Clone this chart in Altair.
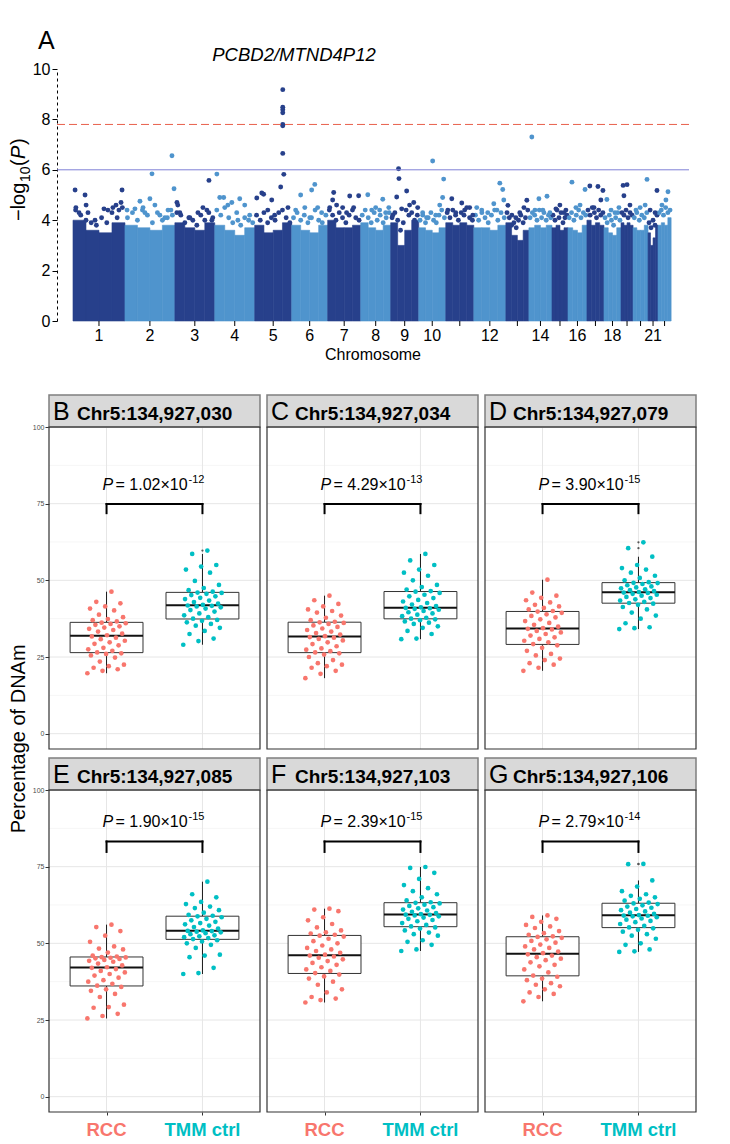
import altair as alt
import numpy as np
import pandas as pd

FONT = "Liberation Sans"
DARK = "#27408B"
LIGHT = "#4F94CD"
RCC_COL = "#F8766D"
TMM_COL = "#00BFC4"

# ---------------- Panel A: Manhattan plot ----------------
CHROM_SPAN_MB = [250, 240, 192, 192, 178, 173, 159, 144, 135, 130, 135,
                 154, 111, 111, 77, 91, 82, 82, 58, 72, 48, 63]
CHROM_LABELS = ["1", "2", "3", "4", "5", "6", "7", "8", "9", "10", "",
                "12", "", "14", "", "16", "", "18", "", "", "21", ""]
# height of the dense bulk of SNPs in four segments of each chromosome
BODY_TOP = [
    [4.0, 3.6, 3.5, 3.9], [3.8, 3.7, 3.6, 3.8], [3.9, 3.7, 3.6, 3.9],
    [3.8, 3.6, 3.4, 3.7], [3.8, 3.5, 3.6, 3.9], [3.8, 3.6, 3.5, 3.8],
    [4.0, 3.7, 3.7, 3.8], [3.9, 3.7, 3.6, 3.8], [3.9, 3.0, 3.6, 4.0],
    [3.7, 3.6, 3.5, 3.7], [3.9, 3.8, 3.9, 3.8], [3.7, 3.7, 3.6, 3.8],
    [3.9, 3.4, 3.2, 3.6], [3.7, 3.8, 3.7, 3.8], [3.7, 3.8, 3.6, 3.7],
    [3.7, 3.6, 3.5, 3.8], [4.0, 3.8, 3.9, 3.8], [3.7, 3.5, 3.4, 3.7],
    [3.9, 3.8, 3.9, 3.8], [3.7, 3.6, 3.6, 3.8], [3.5, 3.0, 3.3, 3.8],
    [3.8, 3.9, 3.8, 4.1],
]
# ragged upper edge of the bulk, sampled evenly along each chromosome
EDGE_TOP = [
    [4.4, 4.2, 4.0, 3.9, 3.8, 4.1, 3.9, 4.3, 4.1, 4.5],
    [4.1, 4.3, 4.0, 4.4, 4.2, 3.9, 4.3, 4.0, 4.1, 4.2],
    [4.3, 4.2, 3.9, 4.1, 4.0, 3.8, 4.2, 4.0, 4.3, 4.1],
    [4.4, 4.2, 4.5, 4.1, 3.9, 4.3, 3.8, 4.1, 4.0, 3.9],
    [4.2, 4.0, 4.3, 3.9, 4.1, 4.0, 4.3, 4.4, 4.1, 3.9],
    [4.1, 4.3, 4.0, 4.2, 3.9, 4.1, 4.4, 4.0, 3.9, 4.2],
    [4.4, 4.2, 4.0, 4.3, 4.1, 3.9, 4.2, 4.4, 4.1, 4.0],
    [4.2, 4.4, 4.1, 3.9, 4.3, 4.0, 4.2, 3.9, 4.1, 4.3],
    [4.1, 4.3, 4.0, 3.6, 3.9, 4.4, 4.2, 4.3, 4.0, 4.2],
    [4.0, 4.2, 3.9, 4.1, 4.3, 4.0, 3.9, 4.2, 4.4, 4.1],
    [4.3, 4.1, 4.4, 4.2, 4.0, 4.3, 4.2, 4.5, 4.1, 4.0],
    [4.2, 4.0, 4.3, 4.1, 3.9, 4.2, 4.4, 4.0, 4.3, 4.1],
    [4.3, 4.1, 3.8, 3.9, 3.7, 4.0, 4.2, 3.9, 4.1, 4.4],
    [4.1, 4.3, 4.2, 4.0, 4.4, 4.1, 4.3, 4.0, 4.2, 4.1],
    [4.2, 4.0, 4.4, 4.1, 4.3, 3.9, 4.1, 4.2],
    [4.1, 4.3, 4.0, 4.2, 4.4, 4.1, 4.3, 4.2],
    [4.4, 4.2, 4.5, 4.3, 4.1, 4.4, 4.2, 4.3],
    [4.1, 3.9, 4.2, 4.0, 3.8, 4.1, 4.3, 4.0],
    [4.3, 4.2, 4.4, 4.1, 4.3, 4.2],
    [4.1, 4.3, 4.0, 4.2, 4.1, 4.3],
    [3.9, 3.7, 4.0, 3.8, 4.2],
    [4.3, 4.4, 4.2, 4.5, 4.3, 4.4],
]
# SNPs standing out above the bulk: chromosome -> [(position Mb, -log10 P)]
TOP_SNPS = {
    1: [(10, 5.2), (14, 4.5), (29, 4.3), (58, 5.0), (63, 4.6), (72, 4.3), (106, 4.0),
        (149, 4.45), (168, 4.4), (192, 4.5), (207, 4.6), (221, 4.4), (231, 4.7), (236, 5.2)],
    2: [(10, 4.4), (48, 4.45), (72, 4.75), (87, 4.5), (96, 4.3), (120, 4.85), (130, 5.84),
        (144, 4.6), (168, 4.2), (192, 4.1), (207, 4.4), (221, 4.4), (226, 6.56), (236, 5.25)],
    3: [(10, 4.7), (14, 4.6), (24, 4.3), (72, 4.1), (111, 4.3), (135, 4.5), (154, 4.4),
        (164, 5.58), (178, 4.0)],
    4: [(10, 5.83), (24, 4.9), (43, 4.9), (63, 4.6), (82, 4.7), (111, 4.0), (120, 4.85),
        (144, 4.6), (168, 4.2)],
    5: [(10, 4.88), (34, 5.08), (43, 5.03), (63, 4.4), (82, 4.8), (96, 4.2), (125, 5.32),
        (135, 9.18), (135, 8.48), (135, 8.38), (135, 8.26), (135, 7.8), (135, 7.75),
        (135, 6.65), (140, 5.82), (160, 4.5)],
    6: [(19, 4.4), (43, 5.0), (63, 4.5), (87, 4.1), (96, 5.2), (111, 5.42), (125, 4.5), (144, 4.3)],
    7: [(10, 4.5), (24, 4.8), (29, 5.1), (43, 4.6), (72, 4.5), (91, 4.3), (106, 4.96),
        (125, 4.5), (149, 4.97)],
    8: [(34, 5.01), (53, 4.4), (72, 4.5), (91, 4.4), (106, 4.83), (120, 4.3), (135, 4.5)],
    9: [(10, 4.2), (29, 4.92), (38, 6.04), (40, 5.65), (53, 4.45), (77, 5.16), (91, 4.6),
        (111, 4.7), (130, 4.5)],
    10: [(19, 4.3), (38, 4.1), (67, 6.35), (82, 4.2), (101, 4.6), (115, 4.9), (120, 5.63)],
    11: [(10, 4.4), (29, 4.85), (48, 4.3), (77, 4.68), (91, 4.4), (115, 4.5), (130, 4.2)],
    12: [(14, 4.5), (38, 4.4), (67, 4.3), (96, 4.65), (111, 4.4), (125, 5.47), (139, 5.22), (144, 4.8)],
    13: [(10, 4.59), (29, 4.2), (48, 4.1), (67, 4.3), (87, 4.5), (101, 4.79)],
    14: [(14, 7.3), (29, 4.4), (48, 4.85), (67, 4.4), (87, 4.95), (101, 4.3)],
    15: [(19, 4.45), (38, 4.6), (58, 4.3), (67, 4.4)],
    16: [(19, 5.51), (38, 4.5), (58, 4.6), (82, 5.22)],
    17: [(14, 5.36), (34, 4.5), (53, 5.34), (67, 4.8), (77, 5.18)],
    18: [(14, 4.82), (34, 4.4), (53, 4.3), (72, 4.5)],
    19: [(10, 5.38), (14, 4.97), (29, 5.41), (43, 4.6)],
    20: [(14, 4.4), (34, 4.5), (58, 4.6), (67, 5.62)],
    21: [(10, 4.4), (34, 4.3), (43, 5.18)],
    22: [(19, 4.6), (38, 4.8), (48, 5.13)],
}
SIG_LINE = 7.8
SUG_LINE = 6.0
GENE_LABEL = "PCBD2/MTND4P12"

# ---------------- Panels B-G: DNAm box plots ----------------
PANEL_LETTERS = ["B", "C", "D", "E", "F", "G"]
PANEL_SITES = ["Chr5:134,927,030", "Chr5:134,927,034", "Chr5:134,927,079",
               "Chr5:134,927,085", "Chr5:134,927,103", "Chr5:134,927,106"]
P_MANTISSA = ["1.02", "4.29", "3.90", "1.90", "2.39", "2.79"]
P_EXPONENT = ["-12", "-13", "-15", "-15", "-15", "-14"]
GROUPS = ["RCC", "TMM ctrl"]

B_RCC = [19.7, 20.5, 21.0, 21.5, 22.0, 22.5, 23.5, 24.8, 25.5, 26.0, 26.2, 26.5, 27.0, 27.5, 28.0,
         28.8, 29.3, 29.8, 30.3, 30.8, 31.3, 31.7, 32.1, 32.6, 33.3, 33.8, 34.2, 34.6, 35.0, 35.5,
         35.8, 36.0, 36.2, 36.6, 37.0, 37.4, 38.0, 38.8, 40.2, 40.8, 41.5, 42.5, 43.0, 46.3]
B_TMM = [29.0, 30.2, 31.0, 32.5, 33.5, 34.5, 35.2, 35.8, 36.3, 36.8, 37.1, 37.5, 38.0, 38.6, 39.2,
         39.8, 40.3, 40.8, 41.2, 41.5, 41.7, 41.8, 42.0, 42.4, 42.9, 43.4, 43.9, 44.3, 44.8, 45.2,
         45.6, 45.9, 46.0, 46.3, 46.8, 47.5, 48.5, 49.8, 52.5, 53.5, 54.5, 55.0, 58.6, 59.7]
C_RCC = [18.1, 19.5, 20.5, 21.5, 22.0, 22.5, 23.0, 24.0, 25.0, 25.8, 26.2, 26.5, 26.9, 27.4, 27.8,
         28.5, 29.2, 29.8, 30.4, 30.9, 31.3, 31.5, 31.8, 32.3, 32.8, 33.3, 33.8, 34.3, 34.8, 35.3,
         35.8, 36.1, 36.3, 36.5, 37.0, 37.8, 38.5, 39.5, 40.0, 40.5, 41.5, 42.3, 43.5, 45.0]
C_TMM = [30.8, 31.0, 32.5, 33.5, 34.5, 35.0, 35.8, 36.2, 36.6, 37.0, 37.3, 37.5, 37.8, 38.3, 38.8,
         39.2, 39.6, 40.0, 40.4, 40.7, 40.9, 41.0, 41.2, 41.6, 42.1, 42.6, 43.1, 43.6, 44.2, 44.8,
         45.3, 45.9, 46.3, 46.5, 47.0, 47.8, 48.5, 50.0, 51.5, 52.5, 53.5, 55.0, 56.5, 58.6]
D_RCC = [20.5, 21.5, 22.5, 23.0, 24.0, 24.5, 25.5, 26.0, 27.0, 28.0, 28.8, 29.2, 29.8, 30.3, 30.9,
         31.4, 32.0, 32.5, 33.0, 33.5, 34.0, 34.2, 34.4, 34.9, 35.5, 36.1, 36.7, 37.3, 37.9, 38.4,
         38.9, 39.4, 39.8, 40.0, 40.5, 41.0, 41.5, 42.0, 42.8, 43.5, 44.3, 45.0, 46.0, 50.2]
D_TMM = [34.1, 34.4, 34.7, 36.0, 37.5, 38.5, 39.5, 40.5, 41.3, 42.0, 42.4, 42.6, 43.0, 43.4, 43.8,
         44.2, 44.6, 45.0, 45.3, 45.6, 45.9, 46.0, 46.2, 46.5, 46.8, 47.1, 47.4, 47.7, 48.0, 48.4,
         48.8, 49.1, 49.2, 49.4, 50.0, 50.8, 51.5, 52.5, 53.5, 54.0, 55.0, 57.7, 60.5, 62.4]
E_RCC = [25.5, 26.3, 27.0, 29.0, 29.2, 30.0, 32.5, 33.5, 34.5, 35.0, 35.8, 36.2, 36.8, 37.5, 38.0,
         38.8, 39.5, 40.0, 40.5, 41.0, 41.6, 42.0, 42.2, 42.8, 43.4, 44.0, 44.3, 44.6, 44.9, 45.1,
         45.3, 45.4, 45.5, 45.7, 46.0, 47.0, 48.0, 48.3, 49.0, 50.5, 52.5, 54.0, 55.3, 56.1]
E_TMM = [40.0, 40.3, 42.0, 45.5, 46.0, 46.3, 48.5, 49.5, 50.0, 50.6, 51.0, 51.4, 51.7, 52.0, 52.3,
         52.6, 53.0, 53.3, 53.6, 53.8, 54.0, 54.05, 54.2, 54.8, 55.3, 55.8, 56.2, 56.6, 57.0, 57.5,
         58.0, 58.5, 58.8, 59.0, 59.3, 60.0, 60.8, 61.5, 62.0, 62.8, 63.5, 65.0, 66.0, 70.1]
F_RCC = [30.7, 31.5, 32.0, 32.5, 34.0, 35.0, 36.5, 37.5, 38.5, 39.2, 39.8, 40.3, 41.0, 41.5, 42.2,
         43.0, 43.6, 44.2, 44.8, 45.3, 45.7, 46.0, 46.3, 46.9, 47.5, 48.0, 48.5, 49.3, 50.0, 50.7,
         51.5, 52.2, 52.5, 52.8, 53.2, 53.6, 54.2, 55.2, 56.3, 57.5, 58.5, 60.5, 61.0, 61.3]
F_TMM = [47.5, 48.0, 49.5, 50.5, 51.0, 52.5, 53.0, 53.5, 54.2, 54.8, 55.2, 55.5, 56.0, 56.6, 57.2,
         57.6, 58.0, 58.4, 58.8, 59.1, 59.3, 59.35, 59.5, 59.9, 60.3, 60.7, 61.0, 61.4, 61.8, 62.2,
         62.6, 63.0, 63.2, 63.4, 64.0, 65.0, 66.0, 67.0, 68.0, 69.0, 71.0, 73.0, 74.6, 74.9]
G_RCC = [31.1, 32.5, 33.5, 34.0, 35.0, 36.0, 36.5, 37.0, 38.0, 38.5, 39.1, 39.5, 40.5, 41.5, 42.5,
         43.0, 43.8, 44.5, 45.0, 45.5, 46.0, 46.4, 46.8, 47.3, 48.0, 48.5, 49.0, 49.6, 50.2, 50.8,
         51.3, 51.8, 52.1, 52.3, 52.8, 53.3, 54.0, 55.0, 55.5, 56.0, 57.0, 58.0, 58.6, 59.1]
G_TMM = [47.2, 47.4, 48.0, 49.5, 50.0, 51.5, 52.5, 53.0, 53.8, 54.4, 54.9, 55.2, 55.7, 56.3, 56.9,
         57.3, 57.7, 58.1, 58.5, 58.8, 59.0, 59.05, 59.2, 59.6, 60.0, 60.4, 60.8, 61.2, 61.6, 62.0,
         62.4, 62.8, 63.0, 63.3, 63.9, 64.5, 65.0, 65.5, 66.0, 67.0, 68.5, 70.5, 75.8, 75.9]
PANEL_RCC = [B_RCC, C_RCC, D_RCC, E_RCC, F_RCC, G_RCC]
PANEL_TMM = [B_TMM, C_TMM, D_TMM, E_TMM, F_TMM, G_TMM]
# annotation heights (in % units)
P_TEXT_Y = [79.6, 79.6, 79.6, 88.0, 88.0, 88.0]
BRACKET_Y = [74.9, 74.9, 74.9, 83.2, 83.2, 83.2]
BRACKET_LEG_Y = [71.9, 71.9, 71.9, 79.8, 79.8, 79.8]
GRID_MAJOR = [0, 25, 50, 75, 100]
GRID_MINOR = [12.5, 37.5, 62.5, 87.5]


def pix_text(text, x, y, **kw):
    return alt.Chart(pd.DataFrame({"t": [text]})).mark_text(font=FONT, **kw).encode(
        x=alt.value(x), y=alt.value(y), text="t:N")


# ================= Manhattan =================
SH = 8                 # the y axis sits 8 px inside the plot rectangle
MW, MH = 640, 252
spans = np.array(CHROM_SPAN_MB, dtype=float)
starts = np.concatenate([[0.0], np.cumsum(spans)[:-1]])
mids = starts + spans / 2
chrom_col = [DARK if i % 2 == 0 else LIGHT for i in range(22)]

body_rows = []
for i, tops in enumerate(BODY_TOP):
    w = spans[i] / len(tops)
    for j, h in enumerate(tops):
        body_rows.append({"x0": starts[i] + j * w, "x1": starts[i] + (j + 1) * w,
                          "h": h, "z": 0.0, "col": chrom_col[i]})
body_df = pd.DataFrame(body_rows)
edge_rows = []
for i, vals in enumerate(EDGE_TOP):
    for j, v in enumerate(vals):
        edge_rows.append({"x": starts[i] + (j + 0.5) / len(vals) * spans[i], "p": v,
                          "col": chrom_col[i]})
snp_df = pd.DataFrame(edge_rows + [{"x": starts[c - 1] + pos, "p": v, "col": chrom_col[c - 1]}
                                   for c, lst in TOP_SNPS.items() for pos, v in lst])
tick_df = pd.DataFrame({"x": mids, "lab": CHROM_LABELS})

mx = alt.Scale(domain=[-115.4, 2963], nice=False, zero=False)
my = alt.Scale(domain=[0, 10], nice=False, zero=False)
yax = alt.Axis(values=[0, 2, 4, 6, 8, 10], domainDash=[3, 3], domainColor="black", domainWidth=1,
               tickColor="black", tickSize=5, labelFontSize=16, labelFont=FONT,
               labelColor="black", labelPadding=2, grid=False, title=None, offset=-SH)

m_body = alt.Chart(body_df).mark_rect(strokeWidth=0.6).encode(
    x=alt.X("x0:Q", scale=mx, axis=None), x2="x1:Q",
    y=alt.Y("h:Q", scale=my, axis=yax), y2="z:Q",
    color=alt.Color("col:N", scale=None), stroke=alt.Stroke("col:N", scale=None))
m_pts = alt.Chart(snp_df).mark_circle(size=24, opacity=1).encode(
    x=alt.X("x:Q", scale=mx, axis=None), y=alt.Y("p:Q", scale=my, axis=yax),
    color=alt.Color("col:N", scale=None))
m_sig = alt.Chart(pd.DataFrame({"y": [SIG_LINE]})).mark_rule(
    color="#E8604C", strokeDash=[8, 4], strokeWidth=1).encode(
    y=alt.Y("y:Q", scale=my, axis=yax), x=alt.value(SH), x2=alt.value(MW))
m_sug = alt.Chart(pd.DataFrame({"y": [SUG_LINE]})).mark_rule(
    color="#7F80D6", strokeWidth=1).encode(
    y=alt.Y("y:Q", scale=my, axis=yax), x=alt.value(SH), x2=alt.value(MW))
m_ticks = alt.Chart(tick_df).mark_rule(color="black", strokeWidth=1).encode(
    x=alt.X("x:Q", scale=mx, axis=None), y=alt.value(MH), y2=alt.value(MH + 5))
m_labs = alt.Chart(tick_df).mark_text(font=FONT, fontSize=16, baseline="alphabetic").encode(
    x=alt.X("x:Q", scale=mx, axis=None), y=alt.value(MH + 20), text="lab:N")

m_texts = [
    pix_text("Chromosome", SH + 316, MH + 39, fontSize=16, baseline="alphabetic", align="center"),
    pix_text(GENE_LABEL, SH + 237, -8, fontSize=18.5, fontStyle="italic", align="center",
             baseline="alphabetic"),
    pix_text("A", SH - 19, -20, fontSize=25, align="left", baseline="alphabetic"),
    pix_text("\u2212log", SH - 32, 152, fontSize=20, angle=270, align="left", baseline="alphabetic"),
    pix_text("10", SH - 27, 113, fontSize=14, angle=270, align="left", baseline="alphabetic"),
    pix_text("(", SH - 32, 97, fontSize=20, angle=270, align="left", baseline="alphabetic"),
    pix_text("P", SH - 32, 90, fontSize=20, angle=270, align="left", baseline="alphabetic",
             fontStyle="italic"),
    pix_text(")", SH - 32, 76, fontSize=20, angle=270, align="left", baseline="alphabetic"),
]

manhattan = alt.layer(m_body, m_pts, m_sig, m_sug, m_ticks, m_labs, *m_texts).properties(
    width=MW, height=MH)

# ================= Box plot panels =================
PW, PH = 211, 322


def build_panel(k):
    row, col = divmod(k, 3)
    pts, boxes, whisk, outl = [], [], [], []
    for g, (vals, colr) in enumerate([(PANEL_RCC[k], RCC_COL), (PANEL_TMM[k], TMM_COL)], start=1):
        v = np.array(vals, dtype=float)
        n = len(v)
        for i, val in enumerate(v):
            off = ((i * 17) % n) / (n - 1) * 0.4 - 0.2
            pts.append({"x": g + off, "v": val, "col": colr})
        q1, med, q3 = np.quantile(v, [0.25, 0.5, 0.75])
        iqr = q3 - q1
        inside = v[(v >= q1 - 1.5 * iqr) & (v <= q3 + 1.5 * iqr)]
        lo, hi = inside.min(), inside.max()
        boxes.append({"g": g, "x0": g - 0.38, "x1": g + 0.38, "q1": q1, "med": med, "q3": q3})
        whisk += [{"g": g, "y0": q3, "y1": hi}, {"g": g, "y0": lo, "y1": q1}]
        for val in v[(v < lo) | (v > hi)]:
            outl.append({"g": g, "v": val})
    pts_df = pd.DataFrame(pts)
    box_df = pd.DataFrame(boxes)
    wh_df = pd.DataFrame(whisk)
    out_df = pd.DataFrame(outl, columns=["g", "v"])

    xs = alt.Scale(domain=[0.4, 2.6], nice=False, zero=False)
    ys = alt.Scale(domain=[-5, 100], nice=False, zero=False)
    xaxis = (alt.Axis(values=[1, 2], labels=False, ticks=True, tickSize=3, tickColor="#333333",
                      tickWidth=1, domain=False, grid=False, title=None) if row == 1 else None)
    yaxis = (alt.Axis(values=[0, 25, 50, 75, 100], labelFontSize=7, labelColor="#4d4d4d",
                      labelFont=FONT, tickSize=4, tickColor="#333333", labelPadding=1,
                      domain=False, grid=False, title=None) if col == 0 else None)

    def X(f):
        return alt.X(f, scale=xs, axis=xaxis)

    def Y(f):
        return alt.Y(f, scale=ys, axis=yaxis)

    layers = []
    layers.append(alt.Chart(pd.DataFrame({"y": GRID_MINOR})).mark_rule(
        color="#F2F2F2", strokeWidth=0.7).encode(y=Y("y:Q"), x=alt.value(0), x2=alt.value(PW)))
    layers.append(alt.Chart(pd.DataFrame({"y": GRID_MAJOR})).mark_rule(
        color="#E6E6E6", strokeWidth=1).encode(y=Y("y:Q"), x=alt.value(0), x2=alt.value(PW)))
    layers.append(alt.Chart(pd.DataFrame({"x": [1, 2]})).mark_rule(
        color="#E6E6E6", strokeWidth=1).encode(x=X("x:Q"), y=alt.value(0), y2=alt.value(PH)))
    # box
    layers.append(alt.Chart(wh_df).mark_rule(color="#1a1a1a", strokeWidth=1).encode(
        x=X("g:Q"), y=Y("y0:Q"), y2="y1:Q"))
    layers.append(alt.Chart(box_df).mark_rect(fill="white", stroke="#333333", strokeWidth=1).encode(
        x=X("x0:Q"), x2="x1:Q", y=Y("q1:Q"), y2="q3:Q"))
    layers.append(alt.Chart(box_df).mark_rule(color="#111111", strokeWidth=2).encode(
        x=X("x0:Q"), x2="x1:Q", y=Y("med:Q")))
    layers.append(alt.Chart(out_df).mark_circle(size=5, color="#555555", opacity=1).encode(
        x=X("g:Q"), y=Y("v:Q")))
    layers.append(alt.Chart(pts_df).mark_circle(size=22, opacity=1).encode(
        x=X("x:Q"), y=Y("v:Q"), color=alt.Color("col:N", scale=None)))
    # bracket
    br_df = pd.DataFrame({
        "x0": [1, 1, 2], "x1": [2, 1, 2],
        "y0": [BRACKET_Y[k]] * 3,
        "y1": [BRACKET_Y[k], BRACKET_LEG_Y[k], BRACKET_LEG_Y[k]]})
    layers.append(alt.Chart(br_df).mark_rule(color="black", strokeWidth=2, strokeCap="square").encode(
        x=X("x0:Q"), x2="x1:Q", y=Y("y0:Q"), y2="y1:Q"))
    # P value text
    pt_df = pd.DataFrame({"x": [1.5], "y": [P_TEXT_Y[k]], "p": ["P"],
                          "m": ["= " + P_MANTISSA[k] + "\u00d710"], "e": [P_EXPONENT[k]]})
    layers.append(alt.Chart(pt_df).mark_text(font=FONT, fontSize=16, fontStyle="italic",
                                             align="left", baseline="alphabetic", dx=-52).encode(
        x=X("x:Q"), y=Y("y:Q"), text="p:N"))
    layers.append(alt.Chart(pt_df).mark_text(font=FONT, fontSize=16, align="left",
                                             baseline="alphabetic", dx=-39).encode(
        x=X("x:Q"), y=Y("y:Q"), text="m:N"))
    layers.append(alt.Chart(pt_df).mark_text(font=FONT, fontSize=11, align="left",
                                             baseline="alphabetic", dx=34, dy=-7).encode(
        x=X("x:Q"), y=Y("y:Q"), text="e:N"))
    # strip header
    layers.append(alt.Chart(pd.DataFrame({"a": [0]})).mark_rect(
        fill="#D9D9D9", stroke="#7F7F7F", strokeWidth=1.5).encode(
        x=alt.value(0), x2=alt.value(PW), y=alt.value(-32), y2=alt.value(0)))
    layers.append(pix_text(PANEL_LETTERS[k], 4, -7, fontSize=25, align="left", baseline="alphabetic"))
    layers.append(pix_text(PANEL_SITES[k], 28, -7, fontSize=19, fontWeight="bold", align="left",
                           baseline="alphabetic"))
    # panel border
    layers.append(alt.Chart(pd.DataFrame({"a": [0]})).mark_rect(
        fill="white", fillOpacity=0, stroke="#333333", strokeWidth=1.2).encode(
        x=alt.value(0), x2=alt.value(PW), y=alt.value(0), y2=alt.value(PH)))
    if row == 1:
        lab_df = pd.DataFrame({"x": [1, 2], "t": GROUPS, "col": [RCC_COL, TMM_COL]})
        layers.append(alt.Chart(lab_df).mark_text(font=FONT, fontSize=18.5, fontWeight="bold",
                                                  baseline="alphabetic").encode(
            x=X("x:Q"), y=alt.value(PH + 24), text="t:N", color=alt.Color("col:N", scale=None)))
    return alt.layer(*layers).properties(width=PW, height=PH)


panels = [build_panel(k) for k in range(6)]
grid = alt.concat(
    *panels, columns=3, spacing={"row": 5, "column": 3}, align="each",
    title=alt.TitleParams("Percentage of DNAm", orient="left", anchor="middle", fontSize=20,
                          fontWeight="normal", font=FONT, color="black", offset=3, dx=28))

chart = alt.vconcat(
    manhattan, grid, spacing=29,
    padding={"left": 0, "top": 20, "right": 0, "bottom": 0},
).configure_view(stroke="transparent")

chart.save("out.html", embed_options={"renderer": "svg", "actions": False})
